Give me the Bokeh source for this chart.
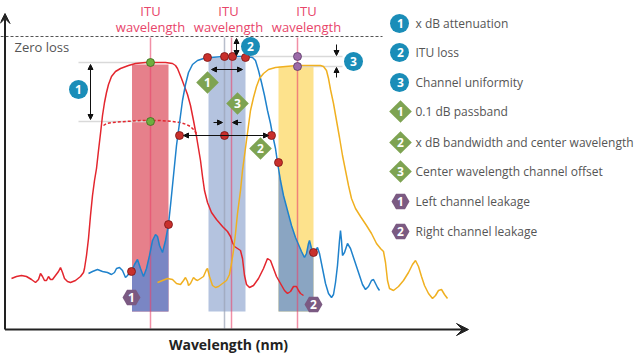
import numpy as np
from bokeh.plotting import figure
from bokeh.models import Range1d, Arrow, VeeHead, NormalHead
from bokeh.core.properties import value
from bokeh.embed import file_html
from bokeh.resources import INLINE

FONT = "Open Sans"

# ---- spectral curves (wavelength position, relative loss) ----
red_x = [11, 16, 21, 26, 31, 35, 38, 40, 42, 44, 46, 48, 50, 52, 55, 58, 60, 62, 64, 67, 70, 75, 80, 83, 84, 86, 88, 90,
         92, 94, 96, 98, 100, 102, 104, 106, 108, 111, 115, 120, 128, 135, 145, 155, 165, 172, 175, 177, 179, 181, 184,
         187, 190, 193, 196, 198, 200, 202, 204, 207, 211, 216, 222, 227, 230, 232, 234, 237, 240, 242, 244, 246, 249,
         253, 258, 263, 267, 270, 273, 276, 280, 284, 287, 290, 293, 296, 298, 300, 303]
red_y = [278, 276, 275, 276, 279, 282, 279, 273, 276, 280, 280, 276, 279, 279, 275, 271, 267, 272, 278, 281, 282, 280,
         276, 272, 268, 255, 238, 215, 195, 180, 168, 150, 133, 115, 102, 92, 84, 76, 71, 68, 65, 63, 62, 62, 62, 63, 65,
         68, 73, 78, 86, 94, 105, 120, 136, 148, 160, 176, 190, 202, 212, 219, 226, 231, 236, 242, 246, 248, 250, 258,
         275, 284, 287, 285, 278, 268, 258, 260, 268, 276, 283, 290, 293, 291, 286, 286, 290, 293, 295]

red_dash_x = [103, 106, 112, 125, 140, 150, 160, 172, 180, 186, 190, 193, 196]
red_dash_y = [125, 123, 122, 121, 120, 120, 120, 121, 122, 124, 126, 129, 133]

blue_x = [88, 92, 97, 102, 107, 111, 114, 116, 119, 122, 125, 127, 129, 131, 134, 137, 140, 143, 146, 149, 152, 155,
          157, 159, 162, 165, 168, 170, 172, 174, 176, 178, 180, 182, 185, 188, 192, 197, 203, 210, 223, 232, 245, 252,
          255, 258, 261, 264, 267, 270, 272, 275, 277, 280, 283, 287, 291, 295, 298, 301, 304, 306, 308, 309, 311, 313,
          315, 317, 319, 322, 325, 328, 331, 333, 335, 337, 339, 340, 341, 342, 344, 347, 350, 354, 358, 362, 365, 368,
          371, 373, 375, 377, 379]
blue_y = [273, 271, 269, 271, 272, 274, 272, 268, 267, 270, 277, 275, 272, 271, 264, 259, 268, 276, 268, 255, 240, 234,
          236, 245, 252, 240, 224, 205, 185, 165, 145, 130, 115, 100, 84, 72, 64, 60, 58, 57, 56, 56, 56, 57, 60, 70, 82,
          95, 110, 123, 134, 148, 162, 180, 195, 210, 225, 237, 244, 251, 257, 253, 243, 240, 248, 253, 250, 247, 253,
          268, 283, 293, 297, 294, 282, 265, 240, 230, 240, 255, 252, 243, 248, 260, 272, 284, 289, 286, 280, 279, 283,
          287, 290]

yellow_x = [157, 162, 167, 172, 176, 180, 183, 185, 187, 188, 190, 193, 195, 197, 200, 203, 206, 207, 209, 212, 215,
            218, 222, 226, 229, 231, 233, 235, 237, 240, 242, 244, 246, 248, 250, 253, 256, 259, 263, 268, 275, 285, 297,
            310, 320, 323, 326, 328, 330, 333, 336, 339, 342, 345, 348, 351, 355, 360, 366, 371, 376, 380, 383, 385, 387,
            389, 393, 398, 403, 408, 412, 415, 418, 421, 424, 428, 432, 435, 438, 441, 444, 447]
yellow_y = [282, 280, 278, 279, 283, 284, 280, 277, 281, 285, 283, 277, 279, 280, 278, 276, 269, 268, 276, 285, 287,
            286, 283, 280, 274, 263, 250, 233, 213, 190, 170, 155, 140, 125, 110, 97, 86, 78, 73, 69, 67, 66, 65, 65, 65,
            66, 70, 78, 89, 103, 120, 137, 155, 170, 185, 198, 208, 216, 225, 233, 243, 248, 251, 262, 280, 288, 290,
            286, 280, 272, 264, 260, 266, 276, 285, 293, 298, 295, 290, 289, 294, 298]

# ---- channels ----
itu_x = [150, 231, 297]
itu_label_x = [150, 228, 306]
band_left = [131.5, 208, 278]
band_right = [168, 245, 313]
band_top = [64, 57.5, 66]
band_bottom = 311
band_colors = ["#e6808b", "#b4c3df", "#fde28c"]
offset_line_x = 224  # measured centre wavelength of middle channel

# ---- annotation markers ----
circle_x = [78, 250, 353]
circle_y = [89, 46, 61]
diamond_x = [207, 260, 237]
diamond_y = [82, 148, 103]
hex_x = [131, 313]
hex_y = [297, 304]

legend_labels = ["x dB attenuation", "ITU loss", "Channel uniformity", "0.1 dB passband",
                 "x dB bandwidth and center wavelength", "Center wavelength channel offset",
                 "Left channel leakage", "Right channel leakage"]
legend_kind = ["circle", "circle", "circle", "diamond", "diamond", "diamond", "hex", "hex"]
legend_num = ["1", "2", "3", "1", "2", "3", "1", "2"]
legend_y = [23, 52, 82, 111, 142, 171, 201, 231]
legend_icon_x = 400
legend_text_x = 415

red_dot_x = [207, 224, 232, 245, 179, 224, 271, 278, 313, 131, 168]
red_dot_y = [57, 56, 56, 57, 135, 135, 135, 162, 252, 271, 224]
green_dot_x = [150, 150]
green_dot_y = [62, 121]
purple_dot_x = [297, 297]
purple_dot_y = [56, 66]

BLUE_BADGE = "#1a8db8"
GREEN_BADGE = "#7ea352"
PURPLE_BADGE = "#7b5a82"
ITU_COLOR = "#e8456a"

p = figure(width=640, height=356, x_range=Range1d(0, 640), y_range=Range1d(356, 0),
           output_backend="svg", toolbar_location=None, min_border=0,
           x_axis_type=None, y_axis_type=None)
p.grid.visible = False
p.outline_line_color = None

# bands
p.quad(left=band_left, right=band_right, top=band_top, bottom=[band_bottom] * 3,
       fill_color=band_colors, line_color=None)

# blue-filter overlap inside the neighbouring bands
bx = np.array(blue_x, float)
by = np.array(blue_y, float)
for i, col in [(0, "#7a86c4"), (2, "#8aa5c2")]:
    l, r = band_left[i], band_right[i]
    m = (bx > l) & (bx < r)
    xs = np.concatenate([[l], bx[m], [r]])
    ys = np.concatenate([[np.interp(l, bx, by)], by[m], [np.interp(r, bx, by)]])
    p.varea(x=xs, y1=ys, y2=band_bottom, fill_color=col)

# reference lines
p.segment(x0=[78, 78, 224, 297], y0=[62, 121, 56, 66], x1=[150, 150, 342, 342], y1=[62, 121, 56, 66],
          line_color="#d9d9d9", line_width=1.5)
p.segment(x0=[offset_line_x], y0=[37], x1=[offset_line_x], y1=[328], line_color="#9aa3b5", line_alpha=0.7,
          line_width=1.5)
p.segment(x0=itu_x, y0=[37] * 3, x1=itu_x, y1=[328] * 3, line_color=ITU_COLOR, line_alpha=0.6, line_width=1.5)

# zero loss
p.line(x=[0, 382], y=[36, 36], line_color="#555555", line_dash="3 2", line_width=1)
p.text(x=[14], y=[46], text=["Zero loss"], text_font=value(FONT), text_font_size="13px",
       text_color="#555555", text_baseline="middle", text_align="left")

# curves
p.line(red_x, red_y, line_color="#e3262e", line_width=1.5)
p.line(red_dash_x, red_dash_y, line_color="#e3262e", line_width=1.5, line_dash="3 2")
p.line(blue_x, blue_y, line_color="#1f82cc", line_width=1.5)
p.line(yellow_x, yellow_y, line_color="#f0b020", line_width=1.5)

# axes with arrows
p.add_layout(Arrow(x_start=4.5, y_start=329, x_end=4.5, y_end=13, line_width=2, line_color="#222222",
                   end=VeeHead(size=10, fill_color="#222222", line_color="#222222")))
p.add_layout(Arrow(x_start=4.5, y_start=329, x_end=468, y_end=329, line_width=2, line_color="#222222",
                   end=VeeHead(size=12, fill_color="#222222", line_color="#222222")))
p.text(x=[228], y=[344], text=["Wavelength (nm)"], text_font=value(FONT), text_font_size="14px",
       text_font_style="bold", text_color="#222222", text_align="center", text_baseline="middle")

# ITU labels
p.text(x=itu_label_x, y=[10] * 3, text=["ITU"] * 3, text_font=value(FONT), text_font_size="13px",
       text_color=ITU_COLOR, text_align="center", text_baseline="middle")
p.text(x=itu_label_x, y=[26] * 3, text=["wavelength"] * 3, text_font=value(FONT), text_font_size="13px",
       text_color=ITU_COLOR, text_align="center", text_baseline="middle")


def head():
    return NormalHead(size=5, fill_color="#111111", line_color="#111111")


arrows = [
    (90, 64, 90, 119, True),
    (236, 38, 236, 55, True),
    (211, 69, 242, 69, True),
    (183, 135, 268, 135, True),
    (213, 122, 222, 122, False),
    (241, 122, 232, 122, False),
    (336, 44, 336, 55, False),
    (336, 77, 336, 67, False),
]
for x0, y0, x1, y1, both in arrows:
    p.add_layout(Arrow(x_start=x0, y_start=y0, x_end=x1, y_end=y1, line_width=1, line_color="#111111",
                       start=head() if both else None, end=head()))

# dots
p.scatter(red_dot_x, red_dot_y, size=8, fill_color="#c8302c", line_color="#7a1414", line_width=0.8)
p.scatter(green_dot_x, green_dot_y, size=8, fill_color="#6fae3e", line_color="#3d6b1e", line_width=0.8)
p.scatter(purple_dot_x, purple_dot_y, size=8, fill_color="#9c6aa8", line_color="#5b3a66", line_width=0.8)

# badges on chart
num_kw = dict(text_font=value(FONT), text_font_size="12px", text_font_style="bold", text_color="white",
              text_align="center", text_baseline="middle")
p.scatter(circle_x, circle_y, marker="circle", size=19, fill_color=BLUE_BADGE, line_color=None)
p.text(circle_x, circle_y, text=["1", "2", "3"], **num_kw)
p.scatter(diamond_x, diamond_y, marker="square", angle=np.pi / 4, size=16, fill_color=GREEN_BADGE, line_color=None)
p.text(diamond_x, diamond_y, text=["1", "2", "3"], **num_kw)
p.scatter(hex_x, hex_y, marker="hex", size=18, fill_color=PURPLE_BADGE, line_color=None)
p.text(hex_x, hex_y, text=["1", "2"], **num_kw)

# legend
for kind, num, ly, lab in zip(legend_kind, legend_num, legend_y, legend_labels):
    if kind == "circle":
        p.scatter([legend_icon_x - 1], [ly], marker="circle", size=19, fill_color=BLUE_BADGE, line_color=None)
    elif kind == "diamond":
        p.scatter([legend_icon_x], [ly], marker="square", angle=np.pi / 4, size=16, fill_color=GREEN_BADGE,
                  line_color=None)
    else:
        p.scatter([legend_icon_x], [ly], marker="hex", size=18, fill_color=PURPLE_BADGE, line_color=None)
    p.text([legend_icon_x], [ly], text=[num], **num_kw)
    p.text([legend_text_x], [ly], text=[lab], text_font=value(FONT), text_font_size="12px",
           text_color="#555555", text_align="left", text_baseline="middle")

open("out.html", "w").write(file_html(p, INLINE))
